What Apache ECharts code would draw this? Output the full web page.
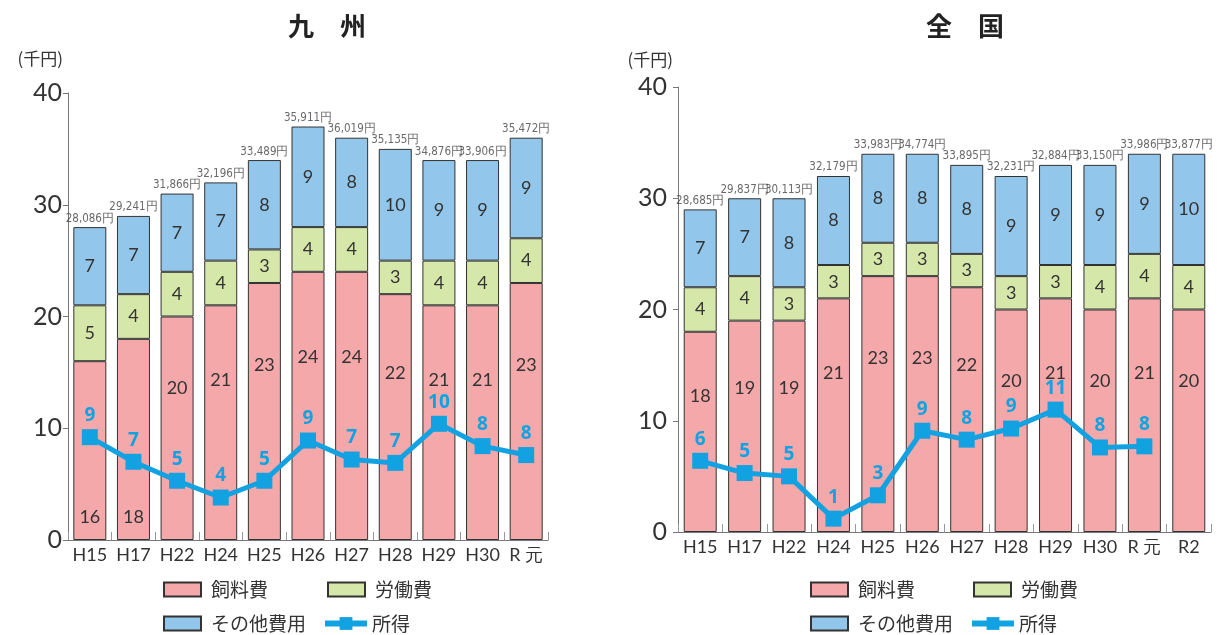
<!DOCTYPE html>
<html><head><meta charset="utf-8">
<script src="https://cdn.jsdelivr.net/npm/echarts@6/dist/echarts.min.js"></script>
<style>html,body{margin:0;padding:0;background:#fff}#c{width:1217px;height:635px}</style>
</head><body><div id="c"></div>
<script>
// ---- Data: 九州 ----
const catsKyushu = ['H15','H17','H22','H24','H25','H26','H27','H28','H29','H30','R 元'];
const feedKyushu = [16,18,20,21,23,24,24,22,21,21,23];
const laborKyushu = [5,4,4,4,3,4,4,3,4,4,4];
const otherKyushu = [7,7,7,7,8,9,8,10,9,9,9];
const incomeKyushu = [9.2,7.0,5.3,3.8,5.3,8.9,7.2,6.9,10.4,8.4,7.6];
const totalKyushu = ['28,086円','29,241円','31,866円','32,196円','33,489円','35,911円','36,019円','35,135円','34,876円','33,906円','35,472円'];
// ---- Data: 全国 ----
const catsZenkoku = ['H15','H17','H22','H24','H25','H26','H27','H28','H29','H30','R 元','R2'];
const feedZenkoku = [18,19,19,21,23,23,22,20,21,20,21,20];
const laborZenkoku = [4,4,3,3,3,3,3,3,3,4,4,4];
const otherZenkoku = [7,7,8,8,8,8,8,9,9,9,9,10];
const incomeZenkoku = [6.4,5.3,5.0,1.2,3.3,9.1,8.3,9.3,11.0,7.6,7.7,null];
const totalZenkoku = ['28,685円','29,837円','30,113円','32,179円','33,983円','34,774円','33,895円','32,231円','32,884円','33,150円','33,986円','33,877円'];
const yTicks = [0,10,20,30,40];
const titles = ['九　州','全　国'];
const unitLabel = '(千円)';

const C_FEED = '#f5a8aa', C_LABOR = '#d6e7aa', C_OTHER = '#92c6ea', C_LINE = '#12a2e2';
const lowFeedLabelKyushu = ['H15','H17'];

function sumArr(a,b,c){return a.map((v,i)=>v+b[i]+c[i]);}

const grids = [
  {left:68, top:93, width:480, height:447},
  {left:678, top:87, width:533, height:445}
];
const sets = [
  {cats:catsKyushu, feed:feedKyushu, labor:laborKyushu, other:otherKyushu, income:incomeKyushu, total:totalKyushu, low:lowFeedLabelKyushu, nameGap:26},
  {cats:catsZenkoku, feed:feedZenkoku, labor:laborZenkoku, other:otherZenkoku, income:incomeZenkoku, total:totalZenkoku, low:[], nameGap:19}
];

const xAxis = [], yAxis = [], series = [];
sets.forEach((s, gi) => {
  xAxis.push({type:'category', gridIndex:gi, data:s.cats,
    axisLine:{lineStyle:{color:'#777', width:1}},
    axisTick:{show:true, inside:true, length:8, lineStyle:{color:'#999'}},
    axisLabel:{interval:0, fontSize:18, color:'#333', margin:6, fontFamily:'Lato'}});
  yAxis.push({type:'value', gridIndex:gi, min:yTicks[0], max:yTicks[yTicks.length-1], interval:10,
    name:unitLabel, nameLocation:'end', nameGap:s.nameGap,
    nameTextStyle:{fontSize:17, color:'#333', align:'right', padding:[0,5,0,0], fontFamily:'Noto Sans CJK JP'},
    axisLine:{show:true, lineStyle:{color:'#777'}},
    axisTick:{show:true, length:5, lineStyle:{color:'#777'}},
    splitLine:{show:false},
    axisLabel:{fontSize:25, color:'#333', margin:gi===0?6:11, fontFamily:'Lato'}});
  const stack = 'st'+gi;
  const border = {borderColor:'#333', borderWidth:1};
  series.push({name:'飼料費', type:'bar', xAxisIndex:gi, yAxisIndex:gi, stack, barWidth:33,
    itemStyle:Object.assign({color:C_FEED}, border),
    data:s.feed.map((v,i)=> s.low.includes(s.cats[i]) ? {value:v, label:{position:'insideBottom', distance:14, align:'center', verticalAlign:'bottom'}} : v),
    label:{show:true, position:['50%','32%'], align:'center', verticalAlign:'middle', fontSize:18, color:'#333', fontFamily:'Lato'}});
  series.push({name:'労働費', type:'bar', xAxisIndex:gi, yAxisIndex:gi, stack, barWidth:33,
    itemStyle:Object.assign({color:C_LABOR}, border), data:s.labor,
    label:{show:true, position:'inside', fontSize:18, color:'#333', fontFamily:'Lato'}});
  series.push({name:'その他費用', type:'bar', xAxisIndex:gi, yAxisIndex:gi, stack, barWidth:33,
    itemStyle:Object.assign({color:C_OTHER}, border), data:s.other,
    label:{show:true, position:'inside', fontSize:18, color:'#333', fontFamily:'Lato'}});
  const tot = sumArr(s.feed, s.labor, s.other);
  series.push({name:'合計'+gi, type:'scatter', xAxisIndex:gi, yAxisIndex:gi, symbol:'rect', symbolSize:1,
    itemStyle:{color:'transparent'}, data:tot, silent:true,
    label:{show:true, position:'top', distance:2, formatter:p=>s.total[p.dataIndex], fontSize:11.5, color:'#444', fontFamily:'DejaVu Sans Condensed'}});
  series.push({name:'所得', type:'line', xAxisIndex:gi, yAxisIndex:gi, data:s.income, z:10,
    symbol:'rect', symbolSize:16, lineStyle:{color:C_LINE, width:5}, itemStyle:{color:C_LINE},
    label:{show:true, position:'top', distance:4, formatter:p=>Math.round(p.value), fontSize:19, fontWeight:'bold', color:C_LINE, fontFamily:'Noto Sans'}});
});

function lg(name, left, top, isLine){
  return {data:[name], left, top, padding:0, itemWidth:isLine?42:37, itemHeight:isLine?16:14, itemGap:0,
    selectedMode:false, icon:isLine?undefined:'rect',
    lineStyle:isLine?{width:6}:undefined,
    textStyle:{fontSize:19, color:'#333', fontFamily:'Noto Sans CJK JP', padding:[0,0,0,isLine?0:5]}};
}
const legend = [
  lg('飼料費',163,580), lg('労働費',327,580), lg('その他費用',163,614), lg('所得',322,614,true),
  lg('飼料費',810,580), lg('労働費',973,580), lg('その他費用',810,614), lg('所得',969,614,true)
];

const chart = echarts.init(document.getElementById('c'), null, {renderer:'canvas'});
chart.setOption({
  animation:false,
  backgroundColor:'#fff',
  title:[
    {text:titles[0], left:322, top:8, textAlign:'center', textStyle:{fontSize:26, fontWeight:'bold', color:'#222', fontFamily:'Noto Sans CJK JP'}},
    {text:titles[1], left:960, top:8, textAlign:'center', textStyle:{fontSize:26, fontWeight:'bold', color:'#222', fontFamily:'Noto Sans CJK JP'}}
  ],
  legend,
  grid:grids,
  xAxis, yAxis, series
});
</script></body></html>
